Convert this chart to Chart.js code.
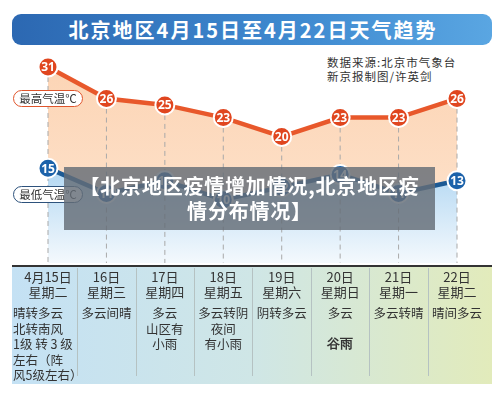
<!DOCTYPE html>
<html>
<head>
<meta charset="utf-8">
<script src="https://cdn.jsdelivr.net/npm/chart.js@4.4.1/dist/chart.umd.min.js"></script>
<style>
  html, body { margin: 0; padding: 0; background: #fff; }
  body { width: 500px; height: 397px; position: relative; overflow: hidden;
         font-family: "Noto Sans CJK SC", "Noto Sans", sans-serif; color: #333; }
  #banner { position: absolute; left: 12px; top: 14px; width: 480px; height: 31px; border-radius: 9px;
            background: linear-gradient(to right, #2c68b2, #3f8ad0 60%, #5aa6e2); }
  #banner span { display: block; text-align: center; color: #fff; font-weight: bold; font-size: 20px;
                 line-height: 31px; letter-spacing: 2px; padding-left: 2px; }
  .src { position: absolute; left: 327px; font-size: 11.5px; color: #333; line-height: 14px; letter-spacing: 1px; }
  #chart { position: absolute; left: 0; top: 0; }
  .tag { position: absolute; left: 13px; width: 68px; height: 15px; border-radius: 9px; background: #fff;
         font-size: 11.5px; line-height: 15px; text-align: center; color: #333; }
  #tagHigh { top: 90px; border: 1.5px solid #e0552c; }
  #tagLow { top: 186px; border: 1.5px solid #2d527c; }
  #table { position: absolute; left: 12px; top: 265px; width: 480px; height: 117px;
           background: linear-gradient(to right, #c4e1f4, #cfe6e6 50%, #e2ebbb); border-top: 2px solid #333; }
  .sep { position: absolute; top: 268px; height: 108px; width: 1px; background: #b5c2c2; }
  .cell { position: absolute; font-size: 12.5px; line-height: 15.5px; white-space: nowrap; color: #333; }
  .term { position: absolute; font-size: 13px; font-weight: bold; color: #333; white-space: nowrap;
          font-family: "DejaVu Serif", serif; }
  #overlay { position: absolute; left: 64px; top: 167px; width: 371px; height: 63px;
             background: rgba(100, 108, 118, 0.82); color: #fff; font-weight: bold; font-size: 20px;
             line-height: 25px; text-align: center; padding-top: 6px; box-sizing: border-box; letter-spacing: 0.8px; }
</style>
</head>
<body>
<div id="banner"><span>北京地区4月15日至4月22日天气趋势</span></div>
<div class="src" style="top:55px">数据来源:北京市气象台</div>
<div class="src" style="top:69px">新京报制图/许英剑</div>
<div id="table"></div>
<canvas id="chart" width="500" height="397"></canvas>
<div class="tag" id="tagHigh">最高气温℃</div>
<div class="tag" id="tagLow">最低气温℃</div>
<div id="overlay">【北京地区疫情增加情况,北京地区疫<br>情分布情况】</div>
<script>
const dates = ['4月15日', '16日', '17日', '18日', '19日', '20日', '21日', '22日'];
const weekdays = ['星期二', '星期三', '星期四', '星期五', '星期六', '星期日', '星期一', '星期二'];
const highs = [31, 26, 25, 23, 20, 23, 23, 26];
const lows = [15, 11, 13, 10, 12, 14, 11, 13];
const weather = [
    ['晴转多云', '北转南风', '1级 转 3 级', '左右（阵', '风5级左右）'],
    ['多云间晴'],
    ['多云', '山区有', '小雨'],
    ['多云转阴', '夜间', '有小雨'],
    ['阴转多云'],
    ['多云'],
    ['多云转晴'],
    ['晴间多云'],
];
const solarTerms = ['', '', '', '', '', '谷雨', '', ''];

document.addEventListener("DOMContentLoaded", function () {

    const canvas = document.getElementById("chart");
    const ctx = canvas.getContext("2d");

    const peach = ctx.createLinearGradient(0, 60, 0, 200);
    peach.addColorStop(0, 'rgba(252, 212, 180, 1)');
    peach.addColorStop(1, 'rgba(253, 224, 200, 1)');

    const blue = ctx.createLinearGradient(0, 165, 0, 263);
    blue.addColorStop(0, 'rgba(176, 214, 242, 1)');
    blue.addColorStop(1, 'rgba(244, 249, 253, 1)');

    // dashed guides from each high point down to the axis
    const guides = {
        id: 'guides',
        beforeDatasetsDraw(chart) {
            const c = chart.ctx;
            const bottom = chart.chartArea.bottom;
            c.save();
            c.strokeStyle = '#a9a9a9';
            c.lineWidth = 1;
            c.setLineDash([5, 4]);
            chart.getDatasetMeta(0).data.forEach(function (pt) {
                c.beginPath();
                c.moveTo(pt.x, pt.y + 10);
                c.lineTo(pt.x, bottom);
                c.stroke();
            });
            c.restore();
        },
    };

    const valueLabels = {
        id: 'valueLabels',
        afterDatasetsDraw(chart) {
            const c = chart.ctx;
            c.save();
            c.fillStyle = '#fff';
            c.font = 'bold 12px "Noto Sans", sans-serif';
            c.textAlign = 'center';
            c.textBaseline = 'middle';
            chart.data.datasets.forEach(function (ds, i) {
                chart.getDatasetMeta(i).data.forEach(function (pt, j) {
                    c.fillText(ds.data[j], pt.x, pt.y + 1);
                });
            });
            c.restore();
        },
    };

    const chart = new Chart(canvas, {
        type: "line",
        data: {
            labels: dates,
            datasets: [{
                label: "最高气温",
                data: highs,
                borderColor: '#e8582b',
                borderWidth: 4.5,
                backgroundColor: peach,
                fill: '+1',
                tension: 0,
                pointRadius: 9.5,
                pointBackgroundColor: '#e0461f',
                pointBorderColor: '#fff',
                pointBorderWidth: 2,
            }, {
                label: "最低气温",
                data: lows,
                borderColor: '#1d5a94',
                borderWidth: 4.5,
                backgroundColor: blue,
                fill: 'origin',
                tension: 0,
                pointRadius: 9.5,
                pointBackgroundColor: '#1c62aa',
                pointBorderColor: '#fff',
                pointBorderWidth: 2,
            }],
        },
        options: {
            responsive: false,
            animation: false,
            clip: false,
            layout: {
                padding: { left: 48, right: 43, top: 48, bottom: 134 },
            },
            scales: {
                x: { display: false, offset: false },
                y: { display: false, min: 0, max: 34 },
            },
            plugins: {
                legend: { display: false },
                tooltip: { enabled: false },
                filler: { drawTime: 'beforeDatasetsDraw' },
            },
        },
        plugins: [guides, valueLabels],
    });

    // table under the chart, columns taken from the x scale
    const xs = chart.scales.x;
    const body = document.body;
    dates.forEach(function (d, i) {
        const cx = xs.getPixelForValue(i);
        if (i > 0) {
            const sep = document.createElement('div');
            sep.className = 'sep';
            sep.style.left = Math.round((cx + xs.getPixelForValue(i - 1)) / 2) + 'px';
            body.appendChild(sep);
        }
        const head = document.createElement('div');
        head.className = 'cell';
        head.style.top = '269px';
        head.style.left = (cx - 29) + 'px';
        head.style.width = '58px';
        head.style.textAlign = 'center';
        head.style.fontSize = '13px';
        head.style.lineHeight = '15px';
        head.innerHTML = d + '<br>' + weekdays[i];
        body.appendChild(head);

        const w = document.createElement('div');
        w.className = 'cell';
        w.style.top = '305px';
        if (i === 0) {
            w.style.left = '13px';
            w.style.textAlign = 'left';
        } else {
            w.style.left = (cx - 29) + 'px';
            w.style.width = '58px';
            w.style.textAlign = 'center';
        }
        w.innerHTML = weather[i].join('<br>');
        body.appendChild(w);

        if (solarTerms[i]) {
            const t = document.createElement('div');
            t.className = 'term';
            t.style.top = '335px';
            t.style.left = (cx - 29) + 'px';
            t.style.width = '58px';
            t.style.textAlign = 'center';
            t.textContent = solarTerms[i];
            body.appendChild(t);
        }
    });
});
</script>
</body>
</html>
